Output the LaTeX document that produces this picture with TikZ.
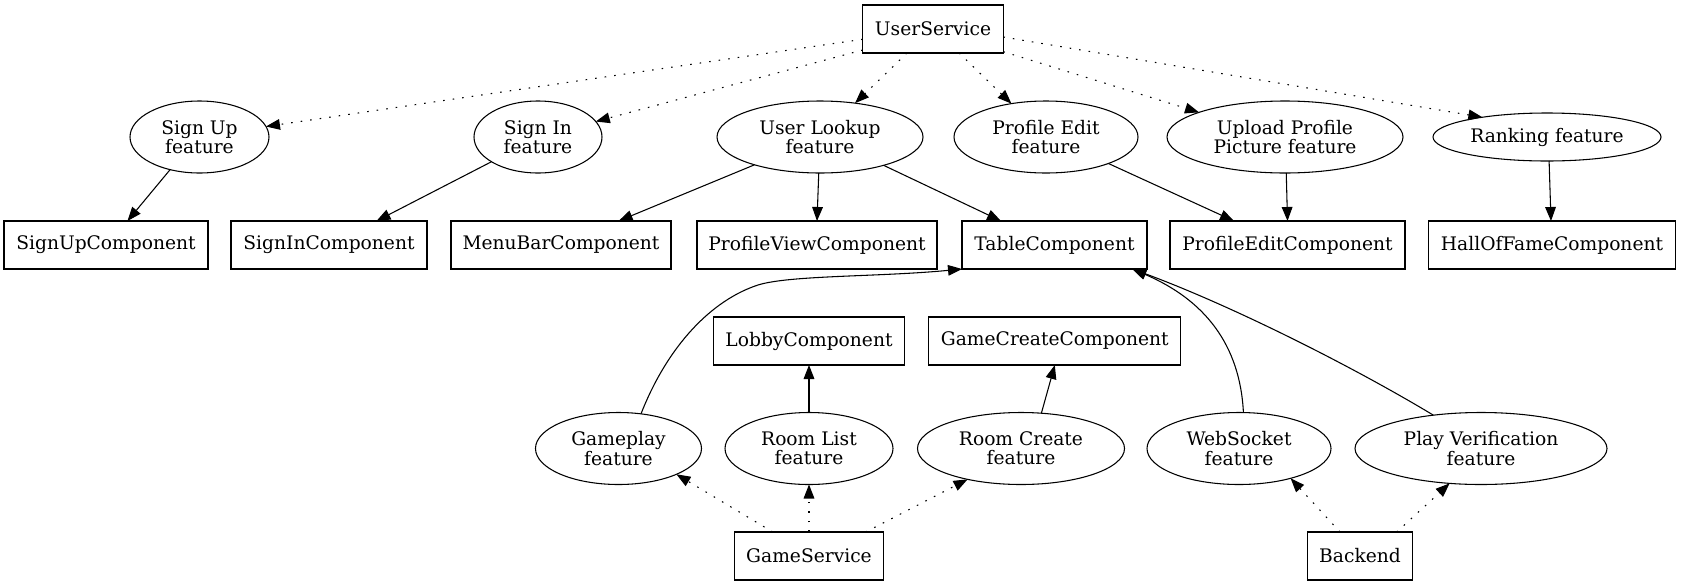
\documentclass[tikz,border=0pt]{standalone}
\usepackage{fontspec}
\setmainfont{DejaVu Serif}
\usetikzlibrary{shapes.geometric,arrows.meta}
\begin{document}
\begin{tikzpicture}[x=0.75pt,y=-0.75pt,
  every node/.style={font=\fontsize{14pt}{14.5pt}\selectfont, align=center, inner sep=0pt, outer sep=0pt},
  box/.style={draw, rectangle, line width=0.8pt, minimum height=36pt},
  feat/.style={draw, ellipse, line width=0.8pt, minimum height=54pt},
  edge/.style={-{Triangle[length=10.5pt,width=8pt]}, line width=0.8pt},
  dot/.style={edge, dash pattern=on 1.2pt off 6pt}]
\useasboundingbox (0,0) rectangle (1681,586);
% top
\node[box, minimum width=105.5pt] (us) at (933,29) {UserService};
% features row 1
\node[feat, minimum width=104.25pt] (su) at (199.5,137) {Sign Up\\feature};
\node[feat, minimum width=96pt] (si) at (538,137) {Sign In\\feature};
\node[feat, minimum width=154.5pt] (ul) at (820,137) {User Lookup\\feature};
\node[feat, minimum width=138pt] (pe) at (1046,137) {Profile Edit\\feature};
\node[feat, minimum width=177pt] (up) at (1285,137) {Upload Profile\\Picture feature};
\node[feat, minimum width=171pt, minimum height=36pt] (rk) at (1547,137) {Ranking feature};
% components row
\node[box, minimum width=153pt] (suc) at (106,245) {SignUpComponent};
\node[box, minimum width=147pt] (sic) at (329,245) {SignInComponent};
\node[box, minimum width=165pt] (mbc) at (561,245) {MenuBarComponent};
\node[box, minimum width=180pt] (pvc) at (817,245) {ProfileViewComponent};
\node[box, minimum width=138.75pt] (tc) at (1054.5,245) {TableComponent};
\node[box, minimum width=176.25pt] (pec) at (1287.5,245) {ProfileEditComponent};
\node[box, minimum width=185.7pt] (hof) at (1552,245) {HallOfFameComponent};
% components row 2
\node[box, minimum width=143.25pt] (lc) at (809,341) {LobbyComponent};
\node[box, minimum width=189pt] (gcc) at (1054.8,341) {GameCreateComponent};
% features row 2
\node[feat, minimum width=124.5pt] (gp) at (618.5,448.5) {Gameplay\\feature};
\node[feat, minimum width=126pt] (rl) at (809,448.5) {Room List\\feature};
\node[feat, minimum width=155.25pt] (rc) at (1021,448.5) {Room Create\\feature};
\node[feat, minimum width=138pt] (ws) at (1239,448.5) {WebSocket\\feature};
\node[feat, minimum width=189pt] (pv) at (1481,448.5) {Play Verification\\feature};
% services
\node[box, minimum width=112pt] (gs) at (809,556) {GameService};
\node[box, minimum width=79.3pt] (be) at (1360,556) {Backend};
% UserService dotted edges
\draw[dot] ([yshift=-7.7pt]us.west) -- (su.9.4);
\draw[dot] ([yshift=-15.75pt]us.west) -- (si.15.7);
\draw[dot] ([xshift=-19.5pt]us.south) -- (ul.44.4);
\draw[dot] ([xshift=19.5pt]us.south) -- (pe.136.2);
\draw[dot] ([yshift=1pt]us.south east) -- (up.164.4);
\draw[dot] ([yshift=-6pt]us.east) -- (rk.163.9);
% feature -> component
\draw[edge] (su.-132) -- ([xshift=16.1pt]suc.north);
\draw[edge] (si.-152.5) -- ([xshift=35.6pt]sic.north);
\draw[edge] (ul.-157.5) -- ([xshift=43.2pt]mbc.north);
\draw[edge] (ul.-92.4) -- (pvc.north);
\draw[edge] (ul.-24) -- ([xshift=-40.1pt]tc.north);
\draw[edge] (pe.-23.5) -- ([xshift=-40.1pt]pec.north);
\draw[edge] (up.-88.4) -- (pec.north);
\draw[edge] (rk.-85) -- ([xshift=-0.75pt]hof.north);
% lower features -> components
\draw[edge] (gp.57.5) .. controls (668,345) and (712,300) .. (758,285) .. controls (790,275) and (880,277) .. (tc.south west);
\draw[edge] (rl.north) -- (lc.south);
\draw[edge] (rc.60.6) -- (gcc.south);
\coordinate (tcin) at ([xshift=-11pt]tc.south east);
\draw[edge] (ws.83) .. controls (1240,345) and (1205,300) .. (tcin);
\draw[edge] (pv.145.1) .. controls (1350,365) and (1230,305) .. (tcin);
% services dotted edges
\draw[dot] ([xshift=-27.2pt]gs.north) -- (gp.-24.8);
\draw[dot] (gs.north) -- (rl.south);
\draw[dot] ([xshift=42.5pt]gs.north) -- (rc.-150.6);
\draw[dot] ([xshift=-15pt]be.north) -- (ws.-30.7);
\draw[dot] ([xshift=27.5pt]be.north) -- (pv.-132.1);
\end{tikzpicture}
\end{document}
